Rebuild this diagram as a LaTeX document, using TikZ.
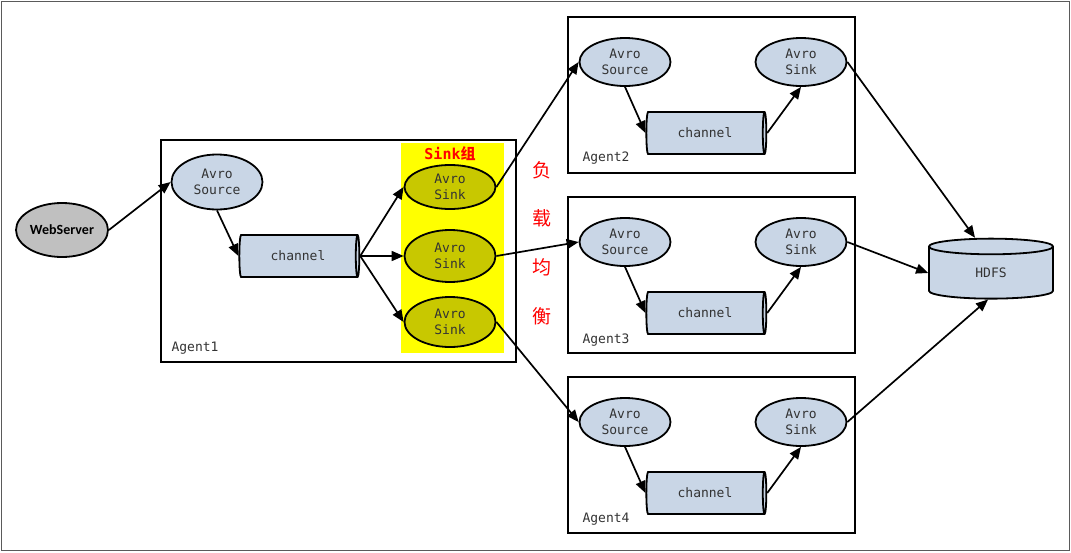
\documentclass[tikz,border=0pt]{standalone}
\usepackage{fontspec}
\newfontfamily\monof{DejaVu Sans Mono}
\newfontfamily\cjk{Noto Sans CJK SC}
\newfontfamily\bsans{Carlito}
\usetikzlibrary{shapes.geometric,arrows.meta}
\definecolor{lblue}{RGB}{201,214,230}
\definecolor{wgray}{RGB}{192,192,192}
\definecolor{olive}{RGB}{200,200,0}
\definecolor{ybg}{RGB}{255,255,0}
\definecolor{framec}{RGB}{90,90,90}
\begin{document}
\begin{tikzpicture}[x=1pt,y=-1pt,
  txt/.style={font=\monof\fontsize{13}{15.5}\selectfont, text=black!80},
  ell/.style={ellipse, draw, line width=1.8pt, fill=lblue, minimum width=91pt, minimum height=48pt, inner sep=0pt, align=center, txt},
  sinkell/.style={ell, fill=olive},
  chan/.style={cylinder, draw, line width=1.8pt, fill=lblue, minimum width=42pt, minimum height=120pt, shape aspect=0.35, inner sep=0pt, txt},
  agent/.style={draw, line width=1.8pt, inner sep=0pt},
  alabel/.style={txt, anchor=west},
  arr/.style={line width=1.7pt, -{Triangle[length=12pt,width=10pt]}},
  redc/.style={text=red, font=\cjk\fontsize{19}{22}\selectfont}
]
\useasboundingbox (0,0) rectangle (1071,552);
\draw[line width=1pt, framec] (1,1) rectangle (1069,550);

% Agent boxes
\node[agent, minimum width=355pt, minimum height=222pt] (A1) at (338.5,251) {};
\node[agent, minimum width=287pt, minimum height=156pt] (A2) at (711.5,95) {};
\node[agent, minimum width=287pt, minimum height=156pt] (A3) at (711.5,275) {};
\node[agent, minimum width=287pt, minimum height=156pt] (A4) at (711.5,455) {};
\node[alabel] (L1) at (168,348) {Agent1};
\node[alabel] (L2) at (579,158) {Agent2};
\node[alabel] (L3) at (579,340) {Agent3};
\node[alabel] (L4) at (579,519) {Agent4};

% Sink group
\node[fill=ybg, minimum width=103pt, minimum height=210pt, inner sep=0pt] (SG) at (452.5,248) {};
\node[text=red, font=\monof\bfseries\fontsize{15}{18}\selectfont] (SGL) at (450,154) {Sink{\cjk 组}};

% WebServer and Agent1
\node[ell, fill=wgray, minimum width=92pt, minimum height=54pt, font=\bsans\bfseries\fontsize{14}{16}\selectfont, text=black] (web) at (62,230) {WebServer};
\node[ell, minimum height=55pt] (s1) at (217,182) {Avro\\Source};
\node[chan] (c1) at (298,256) {channel};
\node[sinkell, minimum height=44pt] (k1) at (450,187) {Avro\\Sink};
\node[sinkell, minimum height=52pt] (k2) at (450,256) {Avro\\Sink};
\node[sinkell, minimum height=50pt] (k3) at (450,322) {Avro\\Sink};

% Red vertical text
\node[redc] (r1) at (542,170) {负};
\node[redc] (r2) at (542,218) {载};
\node[redc] (r3) at (542,267) {均};
\node[redc] (r4) at (542,316) {衡};

% Agents 2-4
\node[ell] (s2) at (625,62) {Avro\\Source};
\node[ell] (k4) at (801,62) {Avro\\Sink};
\node[chan] (c2) at (705,133) {channel};
\node[ell] (s3) at (625,242) {Avro\\Source};
\node[ell] (k5) at (801,242) {Avro\\Sink};
\node[chan] (c3) at (705,313) {channel};
\node[ell] (s4) at (625,422) {Avro\\Source};
\node[ell] (k6) at (801,422) {Avro\\Sink};
\node[chan] (c4) at (705,493) {channel};

% HDFS
\node[cylinder, shape border rotate=90, draw, line width=1.8pt, fill=lblue, minimum width=124pt, minimum height=60pt, shape aspect=0.5, inner sep=0pt, txt] (hdfs) at (991,273) {HDFS};

% Connectors
\draw[arr] (web.east) -- (s1.west);
\draw[arr] (s1.south) -- (c1.west);
\draw[arr] (c1.east) -- (k1.west);
\draw[arr] (c1.east) -- (k2.west);
\draw[arr] (c1.east) -- (k3.west);
\draw[arr] (k1.east) -- (s2.west);
\draw[arr] (k2.east) -- (s3.west);
\draw[arr] (k3.east) -- (s4.west);
\draw[arr] (s2.south) -- (c2.west);
\draw[arr] (c2.east) -- (k4.south);
\draw[arr] (s3.south) -- (c3.west);
\draw[arr] (c3.east) -- (k5.south);
\draw[arr] (s4.south) -- (c4.west);
\draw[arr] (c4.east) -- (k6.south);
\draw[arr] (k4.east) -- ([xshift=-16pt]hdfs.north);
\draw[arr] (k5.east) -- (hdfs.west);
\draw[arr] (k6.east) -- ([xshift=-3pt]hdfs.south);
\end{tikzpicture}
\end{document}
